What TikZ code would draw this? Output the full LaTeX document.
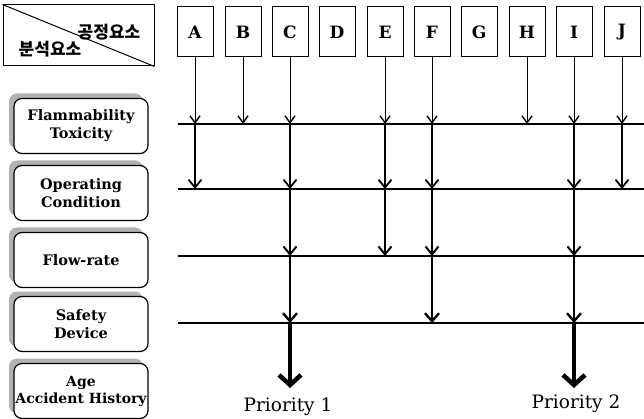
\documentclass[tikz,border=0pt]{standalone}
\usepackage{fontspec}
\setmainfont{DejaVu Serif}
\newfontfamily\kr{Noto Sans CJK KR}
\usetikzlibrary{arrows.meta,shadows}
\begin{document}
\begin{tikzpicture}[x=1pt,y=-1pt,
  lbox/.style={draw, line width=1.2pt, rounded corners=8pt, minimum width=134pt,
    minimum height=55pt, fill=white, align=center, inner sep=0pt,
    font=\bfseries\fontsize{14.5}{18}\selectfont,
    drop shadow={shadow xshift=-5pt, shadow yshift=5pt, fill=gray!60, opacity=1}},
  letter/.style={draw, line width=1pt, minimum width=36pt, minimum height=50pt,
    inner sep=0pt, font=\bfseries\fontsize{17}{17}\selectfont},
  hline/.style={line width=1.3pt},
  a1/.style={-{Straight Barb[length=7pt,width=10pt,line width=1.4pt]}, line width=1pt},
  a2/.style={-{Straight Barb[length=8pt,width=13pt]}, line width=1.8pt},
  a3/.style={-{Straight Barb[length=8pt,width=13pt]}, line width=2pt},
  a4/.style={-{Straight Barb[length=8pt,width=14pt]}, line width=2.4pt},
  a5/.style={-{Straight Barb[length=10pt,width=22pt]}, line width=4.5pt},
  prio/.style={anchor=base, font=\fontsize{18.5}{18.5}\selectfont}
]
\useasboundingbox (0,0) rectangle (644,419);
% header
\node[draw, line width=1pt, minimum width=151pt, minimum height=61pt, inner sep=0pt] (hdr) at (78.5,35.5) {};
\draw[line width=1pt] (hdr.north west) -- (hdr.south east);
\node[font=\kr\bfseries\fontsize{17}{17}\selectfont] (proc) at (109,32) {공정요소};
\node[font=\kr\bfseries\fontsize{17}{17}\selectfont] (anal) at (50,49) {분석요소};
% letter boxes
\foreach \n/\x in {A/195,B/243,C/290,D/337,E/385,F/432,G/479,H/527,I/574,J/622}
  \node[letter] (\n) at (\x,32) {\n};
% left boxes
\node[lbox] (f1) at (81,126) {Flammability\\Toxicity};
\node[lbox] (f2) at (81,193) {Operating\\Condition};
\node[lbox] (f3) at (81,260) {Flow-rate};
\node[lbox] (f4) at (81,324) {Safety\\Device};
\node[lbox, font=\bfseries\fontsize{14}{17}\selectfont] (f5) at (81,391) {Age\\Accident History};
% horizontal lines
\coordinate (L1) at (178,124); \coordinate (L1e) at (644,124);
\coordinate (L2) at (178,189); \coordinate (L2e) at (644,189);
\coordinate (L3) at (178,256); \coordinate (L3e) at (644,256);
\coordinate (L4) at (178,323); \coordinate (L4e) at (644,323);
\foreach \k in {1,2,3,4} \draw[hline] (L\k) -- (L\k e);
% arrows
\foreach \n in {A,B,C,E,F,H,I,J} \draw[a1] (\n.south) -- (\n |- L1);
\foreach \n in {A,C,E,F,I,J} \draw[a2] (\n |- L1) -- (\n |- L2);
\foreach \n in {C,E,F,I} \draw[a3] (\n |- L2) -- (\n |- L3);
\foreach \n in {C,F,I} \draw[a4] (\n |- L3) -- (\n |- L4);
\coordinate (e1) at (290,388);
\coordinate (e2) at (574,388);
\draw[a5] (C |- L4) -- (e1);
\draw[a5] (I |- L4) -- (e2);
% priorities
\node[prio] (p1) at (288,411) {Priority 1};
\node[prio] (p2) at (576,408) {Priority 2};
\end{tikzpicture}
\end{document}
